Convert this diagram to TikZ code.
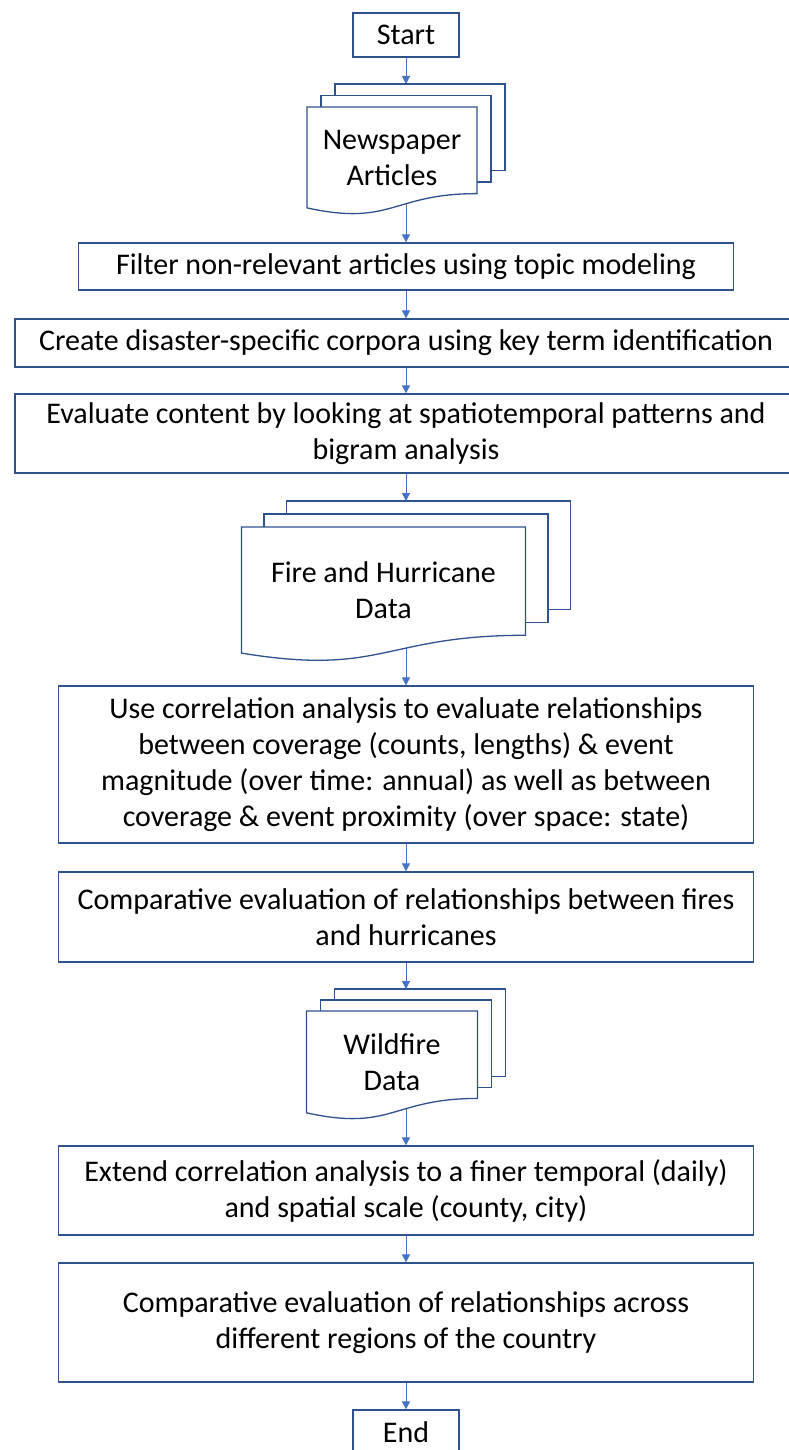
\documentclass[tikz,border=0pt]{standalone}
\usepackage{fontspec}
\setmainfont{Carlito}
\usetikzlibrary{arrows.meta,calc}

\definecolor{boxblue}{HTML}{2F528F}
\definecolor{flowblue}{HTML}{4472C4}

% stack of three pages: #1 stack node, #2 page width, #3 page height,
% #4/#5 offset of the pages behind, #6 label
\newcommand{\docstack}[6]{%
  \coordinate (#1-tl) at ($(#1.north west)+(0,{2*#5})$);
  \foreach \k in {2,1}
    \draw[page] ($(#1-tl)+({\k*#4},{-\k*#5})$) rectangle ++(#2,{0.802*#3});
  \draw[page] (#1-tl) -- ++(#2,0) -- ($(#1-tl)+(#2,{0.802*#3})$)
    .. controls ($(#1-tl)+({0.5*#2},{0.802*#3})$) and ($(#1-tl)+({0.5*#2},{1.1075*#3})$)
    .. ($(#1-tl)+(0,{0.934*#3})$) -- cycle;
  \node[doctext] (#1-text) at ($(#1-tl)+({0.5*#2},{0.47*#3})$) {#6};
}

\begin{document}
\begin{tikzpicture}[x=1pt,y=-1pt]
    \tikzstyle{stepbox}=[draw=boxblue,line width=1.3pt,fill=white,align=center,
        inner sep=0pt,font=\fontsize{30}{36}\selectfont]
    \tikzstyle{doctext}=[align=center,inner sep=0pt,font=\fontsize{30}{36}\selectfont]
    \tikzstyle{stack}=[inner sep=0pt,outer sep=0pt]
    \tikzstyle{page}=[draw=boxblue,line width=1.3pt,fill=white]
    \tikzstyle{flow}=[draw=flowblue,line width=1pt,-{Triangle[width=8pt,length=8pt]}]

    \fill[white] (0,0) rectangle (789,1450);
    \useasboundingbox (0,0) rectangle (789,1450);

    % Steps
    \node[stepbox,minimum width=106pt,minimum height=44pt] (start) at (406,35) {Start};
    \node[stack,minimum width=198pt,minimum height=130pt] (news) at (406,149) {};
    \node[stepbox,minimum width=655pt,minimum height=47pt] (filter) at (406,266.5)
        {Filter non-relevant articles using topic modeling};
    \node[stepbox,minimum width=782pt,minimum height=48pt] (corpora) at (406,343)
        {Create disaster-specific corpora using key term identification};
    \node[stepbox,minimum width=782pt,minimum height=79pt] (evaluate) at (406,433.5)
        {Evaluate content by looking at spatiotemporal patterns and\\bigram analysis};
    \node[stack,minimum width=329pt,minimum height=160pt] (firedata) at (406,581) {};
    \node[stepbox,minimum width=695pt,minimum height=157pt] (correl) at (406,764.5)
        {Use correlation analysis to evaluate relationships\\
         between coverage (counts, lengths) \& event\\
         magnitude (over time: annual) as well as between\\
         coverage \& event proximity (over space: state)};
    \node[stepbox,minimum width=695pt,minimum height=90pt] (compare) at (406,917)
        {Comparative evaluation of relationships between fires\\and hurricanes};
    \node[stack,minimum width=199pt,minimum height=130pt] (wilddata) at (406,1054) {};
    \node[stepbox,minimum width=695pt,minimum height=89pt] (extend) at (406,1190.5)
        {Extend correlation analysis to a finer temporal (daily)\\and spatial scale (county, city)};
    \node[stepbox,minimum width=695pt,minimum height=119pt] (regions) at (406,1322.5)
        {Comparative evaluation of relationships across\\different regions of the country};
    \node[stepbox,minimum width=106pt,minimum height=44pt] (end) at (406,1432) {End};

    % Connectors
    \draw[flow] (start) -- (news);
    \draw[flow] (news.center) -- (filter);
    \draw[flow] (filter) -- (corpora);
    \draw[flow] (corpora) -- (evaluate);
    \draw[flow] (evaluate) -- (firedata);
    \draw[flow] (firedata.center) -- (correl);
    \draw[flow] (correl) -- (compare);
    \draw[flow] (compare) -- (wilddata);
    \draw[flow] (wilddata.center) -- (extend);
    \draw[flow] (extend) -- (regions);
    \draw[flow] (regions) -- (end);

    % Document stacks
    \docstack{news}{170}{108}{14}{11.5}{Newspaper\\Articles}
    \docstack{firedata}{284}{135}{22.5}{13}{Fire and Hurricane\\Data}
    \docstack{wilddata}{171}{109}{14}{11}{Wildfire\\Data}
\end{tikzpicture}
\end{document}
